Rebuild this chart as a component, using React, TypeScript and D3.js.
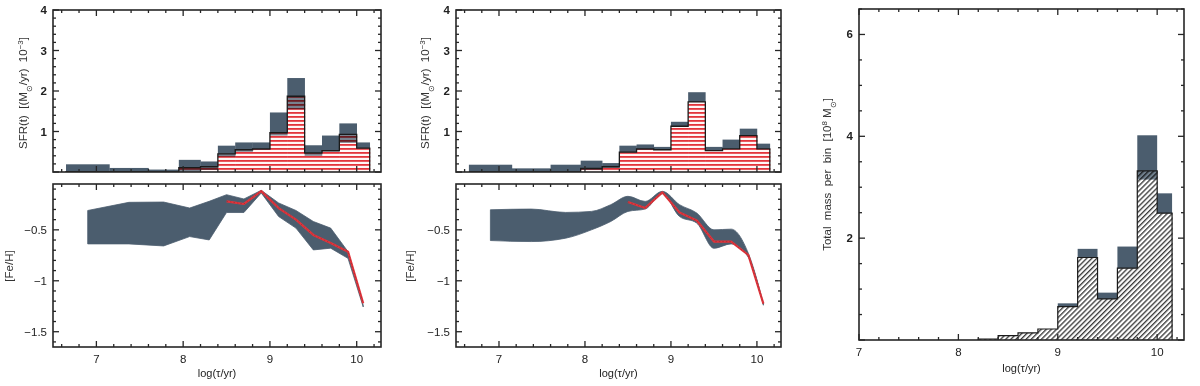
import React from "react";
import * as d3 from "d3";

// ---------- data ----------
const binEdges = [6.65, 7.15, 7.6, 7.95, 8.2, 8.4, 8.6, 8.8, 9.0, 9.2, 9.4, 9.6, 9.8, 10.0, 10.15];
const binCenters = [6.9, 7.375, 7.775, 8.075, 8.3, 8.5, 8.7, 8.9, 9.1, 9.3, 9.5, 9.7, 9.9, 10.075];

// left column SFR (10^-3 Msun/yr)
const sfrUpA = [0.19, 0.1, 0.06, 0.3, 0.26, 0.65, 0.73, 0.73, 1.47, 2.32, 0.66, 0.9, 1.2, 0.73];
const sfrBestA = [0.01, 0.01, 0.0, 0.11, 0.13, 0.45, 0.55, 0.57, 0.97, 1.87, 0.47, 0.53, 0.93, 0.59];
const sfrLowA = [0, 0, 0, 0, 0.05, 0.38, 0.5, 0.55, 0.9, 1.55, 0.4, 0.5, 0.72, 0.59];

// middle column SFR
const sfrUpB = [0.18, 0.09, 0.18, 0.28, 0.22, 0.65, 0.68, 0.62, 1.24, 1.97, 0.62, 0.8, 1.07, 0.7];
const sfrBestB = [0.0, 0.0, 0.0, 0.09, 0.13, 0.49, 0.57, 0.55, 1.13, 1.73, 0.53, 0.57, 0.9, 0.57];
const sfrLowB = [0, 0, 0, 0.05, 0.1, 0.49, 0.55, 0.55, 1.13, 1.73, 0.53, 0.57, 0.9, 0.57];

// left column [Fe/H]
const feUpA = [-0.31, -0.23, -0.227, -0.286, -0.22, -0.155, -0.197, -0.112, -0.236, -0.31, -0.418, -0.483, -0.714, -1.24];
const feLowA = [-0.638, -0.638, -0.658, -0.566, -0.599, -0.33, -0.33, -0.138, -0.369, -0.483, -0.697, -0.68, -0.78, -1.257];
const feBestA = [null, null, null, null, null, -0.22, -0.246, -0.12, -0.286, -0.4, -0.55, -0.63, -0.714, -1.22];

// middle column [Fe/H]
const feUpB = [-0.303, -0.296, -0.329, -0.319, -0.253, -0.171, -0.221, -0.122, -0.253, -0.335, -0.5, -0.493, -0.73, -1.224];
const feLowB = [-0.605, -0.615, -0.582, -0.5, -0.418, -0.319, -0.296, -0.145, -0.369, -0.434, -0.681, -0.638, -0.77, -1.24];
const feBestB = [null, null, null, null, null, -0.227, -0.286, -0.132, -0.329, -0.408, -0.615, -0.615, -0.747, -1.224];

// right: total mass per bin (10^8 Msun)
const massEdges = [8.2, 8.4, 8.6, 8.8, 9.0, 9.2, 9.4, 9.6, 9.8, 10.0, 10.15];
const massUp = [0.02, 0.085, 0.14, 0.216, 0.72, 1.79, 0.93, 1.835, 4.02, 2.88];
const massBest = [0.02, 0.085, 0.14, 0.216, 0.655, 1.62, 0.806, 1.41, 3.32, 2.49];
const massLow = [0.02, 0.085, 0.14, 0.216, 0.655, 1.62, 0.806, 1.41, 3.15, 2.49];

const xTickLabels = [7, 8, 9, 10];
const sfrTickLabels = [1, 2, 3, 4];
const feTickLabels = [-0.5, -1, -1.5];
const massTickLabels = [2, 4, 6];

// ---------- style ----------
const GRAY = "#4b5d6e";
const RED = "#e3343b";
const FONT = "'Liberation Sans', Arial, Helvetica, sans-serif";
const FRAME = "#262626";

type Box = { x0: number; x1: number; y0: number; y1: number };

function multiples(d0: number, d1: number, step: number) {
  const out: number[] = [];
  const a = Math.ceil(d0 / step - 1e-9);
  const b = Math.floor(d1 / step + 1e-9);
  for (let k = a; k <= b; k++) out.push(+(k * step).toFixed(6));
  return out;
}

function isMul(v: number, m: number) {
  const r = v / m;
  return Math.abs(r - Math.round(r)) < 1e-6;
}

function stepPath(
  xs: d3.ScaleLinear<number, number>,
  ys: d3.ScaleLinear<number, number>,
  edges: number[],
  vals: number[]
) {
  const pts: [number, number][] = [[xs(edges[0]), ys(0)]];
  vals.forEach((v, i) => {
    pts.push([xs(edges[i]), ys(v)]);
    pts.push([xs(edges[i + 1]), ys(v)]);
  });
  pts.push([xs(edges[edges.length - 1]), ys(0)]);
  return d3.line()(pts) || "";
}

function Frame(props: {
  box: Box;
  xs: d3.ScaleLinear<number, number>;
  ys: d3.ScaleLinear<number, number>;
  xMinor: number;
  xMajor: number;
  yMinor: number;
  yMajor: number;
  xLabels?: number[];
  yLabels: number[];
  yFmt: (v: number) => string;
  yBold?: boolean;
  labelY?: number;
}) {
  const { box, xs, ys, xMinor, xMajor, yMinor, yMajor, xLabels, yLabels, yFmt, yBold, labelY } = props;
  const [dx0, dx1] = xs.domain();
  const [dy0, dy1] = ys.domain();
  const xt = multiples(Math.min(dx0, dx1), Math.max(dx0, dx1), xMinor);
  const yt = multiples(Math.min(dy0, dy1), Math.max(dy0, dy1), yMinor);
  const els: React.ReactNode[] = [];
  xt.forEach((v, i) => {
    const L = isMul(v, xMajor) ? 6 : 3;
    const x = xs(v);
    els.push(<line key={"xb" + i} x1={x} x2={x} y1={box.y1} y2={box.y1 - L} stroke={FRAME} strokeWidth={1.3} />);
    els.push(<line key={"xt" + i} x1={x} x2={x} y1={box.y0} y2={box.y0 + L} stroke={FRAME} strokeWidth={1.3} />);
  });
  yt.forEach((v, i) => {
    const L = isMul(v, yMajor) ? 6 : 3;
    const y = ys(v);
    els.push(<line key={"yl" + i} x1={box.x0} x2={box.x0 + L} y1={y} y2={y} stroke={FRAME} strokeWidth={1.3} />);
    els.push(<line key={"yr" + i} x1={box.x1} x2={box.x1 - L} y1={y} y2={y} stroke={FRAME} strokeWidth={1.3} />);
  });
  return (
    <g>
      <rect x={box.x0} y={box.y0} width={box.x1 - box.x0} height={box.y1 - box.y0} fill="none" stroke={FRAME} strokeWidth={1.6} />
      {els}
      {yLabels.map((v) => (
        <text
          key={"yl" + v}
          x={box.x0 - 6}
          y={ys(v)}
          dy="0.35em"
          textAnchor="end"
          fontSize={11.5}
          fontWeight={yBold ? "bold" : "normal"}
          fontFamily={FONT}
          fill="#222"
        >
          {yFmt(v)}
        </text>
      ))}
      {xLabels &&
        xLabels.map((v) => (
          <text key={"xl" + v} x={xs(v)} y={labelY} dy="0.35em" textAnchor="middle" fontSize={11.5} fontFamily={FONT} fill="#222">
            {v}
          </text>
        ))}
    </g>
  );
}

function SfrPanel(props: { box: Box; up: number[]; best: number[]; low: number[]; clip: string }) {
  const { box, up, best, low, clip } = props;
  const xs = d3.scaleLinear().domain([6.5, 10.28]).range([box.x0, box.x1]);
  const ys = d3.scaleLinear().domain([0, 4]).range([box.y1, box.y0]);
  const bars = best.map((b, i) => ({ x0: binEdges[i], x1: binEdges[i + 1], b, u: up[i], l: low[i] }));
  return (
    <g>
      <clipPath id={clip}>
        <rect x={box.x0} y={box.y0} width={box.x1 - box.x0} height={box.y1 - box.y0} />
      </clipPath>
      <g clipPath={`url(#${clip})`}>
        {bars.map((d, i) => (
          <rect key={"h" + i} x={xs(d.x0)} y={ys(d.b)} width={xs(d.x1) - xs(d.x0) + 0.5} height={ys(0) - ys(d.b)} fill="url(#redStripes)" />
        ))}
        {bars.map((d, i) => (
          <rect key={"g" + i} x={xs(d.x0)} y={ys(d.u)} width={xs(d.x1) - xs(d.x0) + 0.3} height={Math.max(0, ys(d.b) - ys(d.u))} fill={GRAY} />
        ))}
        {bars.map((d, i) => (
          <rect
            key={"o" + i}
            x={xs(d.x0)}
            y={ys(d.b)}
            width={xs(d.x1) - xs(d.x0) + 0.3}
            height={Math.max(0, ys(d.l) - ys(d.b))}
            fill={GRAY}
            opacity={0.75}
            style={{ mixBlendMode: "multiply" }}
          />
        ))}
        <path d={stepPath(xs, ys, binEdges, best)} fill="none" stroke="#1a1a1a" strokeWidth={1.3} />
      </g>
      <Frame
        box={box}
        xs={xs}
        ys={ys}
        xMinor={0.2}
        xMajor={1}
        yMinor={0.2}
        yMajor={1}
        yLabels={sfrTickLabels}
        yFmt={(v) => String(v)}
        yBold
      />
    </g>
  );
}

function FePanel(props: { box: Box; up: number[]; low: number[]; best: (number | null)[]; smooth?: boolean }) {
  const { box, up, low, best, smooth } = props;
  const xs = d3.scaleLinear().domain([6.5, 10.28]).range([box.x0, box.x1]);
  const ys = d3.scaleLinear().domain([-1.65, -0.05]).range([box.y1, box.y0]);
  const pts = binCenters.map((c, i) => ({ c, u: up[i], l: low[i], b: best[i] }));
  const area = d3
    .area<{ c: number; u: number; l: number }>()
    .x((d) => xs(d.c))
    .y0((d) => ys(d.l))
    .y1((d) => ys(d.u))
    .curve(smooth ? d3.curveMonotoneX : d3.curveLinear);
  const line = d3
    .line<{ c: number; b: number | null }>()
    .defined((d) => d.b !== null)
    .x((d) => xs(d.c))
    .y((d) => ys(d.b as number));
  return (
    <g>
      <path d={area(pts) || ""} fill={GRAY} stroke={GRAY} strokeWidth={0.8} />
      <path d={line(pts) || ""} fill="none" stroke={RED} strokeWidth={2.2} strokeLinejoin="round" />
      <path d={line(pts) || ""} fill="none" stroke="#6b2a30" strokeWidth={0.6} strokeDasharray="1.5 2" opacity={0.7} />
      <Frame
        box={box}
        xs={xs}
        ys={ys}
        xMinor={0.2}
        xMajor={1}
        yMinor={0.1}
        yMajor={0.5}
        xLabels={xTickLabels}
        yLabels={feTickLabels}
        yFmt={(v) => String(v).replace("-", "\u2212")}
        labelY={box.y1 + 12}
      />
      <text x={(box.x0 + box.x1) / 2} y={box.y1 + 26} dy="0.35em" textAnchor="middle" fontSize={11} fontFamily={FONT} fill="#222">
        log(τ/yr)
      </text>
    </g>
  );
}

function SfrLabel({ x, y }: { x: number; y: number }) {
  return (
    <text transform={`translate(${x},${y}) rotate(-90)`} textAnchor="middle" fontSize={11.5} fontFamily={FONT} fill="#333" style={{ whiteSpace: "pre" }}>
      {"SFR(t)  [(M"}
      <tspan fontSize={8} baselineShift="sub">
        ⊙
      </tspan>
      {"/yr)  10"}
      <tspan fontSize={8} baselineShift="super">
        −3
      </tspan>
      {"]"}
    </text>
  );
}

function FeLabel({ x, y }: { x: number; y: number }) {
  return (
    <text transform={`translate(${x},${y}) rotate(-90)`} textAnchor="middle" fontSize={11.5} fontFamily={FONT} fill="#333">
      [Fe/H]
    </text>
  );
}

function MassPanel({ box }: { box: Box }) {
  const xs = d3.scaleLinear().domain([7, 10.27]).range([box.x0, box.x1]);
  const ys = d3.scaleLinear().domain([0, 6.5]).range([box.y1, box.y0]);
  const bars = massBest.map((b, i) => ({ x0: massEdges[i], x1: massEdges[i + 1], b, u: massUp[i], l: massLow[i] }));
  return (
    <g>
      {bars.map((d, i) => (
        <rect key={"h" + i} x={xs(d.x0)} y={ys(d.b)} width={xs(d.x1) - xs(d.x0) + 0.5} height={ys(0) - ys(d.b)} fill="url(#diagHatch)" />
      ))}
      {bars.map((d, i) => (
        <rect key={"g" + i} x={xs(d.x0)} y={ys(d.u)} width={xs(d.x1) - xs(d.x0)} height={Math.max(0, ys(d.b) - ys(d.u))} fill={GRAY} />
      ))}
      {bars.map((d, i) => (
        <rect
          key={"o" + i}
          x={xs(d.x0)}
          y={ys(d.b)}
          width={xs(d.x1) - xs(d.x0)}
          height={Math.max(0, ys(d.l) - ys(d.b))}
          fill={GRAY}
          opacity={0.8}
          style={{ mixBlendMode: "multiply" }}
        />
      ))}
      <path d={stepPath(xs, ys, massEdges, massBest)} fill="none" stroke="#1a1a1a" strokeWidth={1.2} />
      <Frame
        box={box}
        xs={xs}
        ys={ys}
        xMinor={0.2}
        xMajor={1}
        yMinor={0.5}
        yMajor={2}
        xLabels={xTickLabels}
        yLabels={massTickLabels}
        yFmt={(v) => String(v)}
        yBold
        labelY={box.y1 + 12}
      />
      <text x={(box.x0 + box.x1) / 2} y={box.y1 + 28} dy="0.35em" textAnchor="middle" fontSize={11} fontFamily={FONT} fill="#222">
        log(τ/yr)
      </text>
      <text
        transform={`translate(${box.x0 - 28},${(box.y0 + box.y1) / 2}) rotate(-90)`}
        textAnchor="middle"
        fontSize={11.5}
        fontFamily={FONT}
        fill="#333"
        style={{ whiteSpace: "pre" }}
      >
        {"Total  mass  per  bin  [10"}
        <tspan fontSize={8} baselineShift="super">
          8
        </tspan>
        {" M"}
        <tspan fontSize={8} baselineShift="sub">
          ⊙
        </tspan>
        {"]"}
      </text>
    </g>
  );
}

export default function App() {
  const topA: Box = { x0: 53, x1: 381, y0: 10, y1: 172 };
  const botA: Box = { x0: 53, x1: 381, y0: 184, y1: 347 };
  const topB: Box = { x0: 456, x1: 781, y0: 10, y1: 172 };
  const botB: Box = { x0: 456, x1: 781, y0: 184, y1: 347 };
  const right: Box = { x0: 859, x1: 1184, y0: 9, y1: 340 };
  return (
    <svg width={1200} height={386} style={{ position: "absolute", left: 0, top: 0, background: "#fff" }}>
      <defs>
        <pattern id="redStripes" patternUnits="userSpaceOnUse" width={8} height={4}>
          <rect width={8} height={4} fill="#fff6f6" />
          <rect y={0} width={8} height={1.8} fill={RED} />
        </pattern>
        <pattern id="diagHatch" patternUnits="userSpaceOnUse" width={3.6} height={3.6} patternTransform="rotate(45)">
          <rect width={3.6} height={3.6} fill="#fff" />
          <line x1={0.7} y1={0} x2={0.7} y2={3.6} stroke="#222" strokeWidth={1.2} />
        </pattern>
      </defs>
      <rect width={1200} height={386} fill="#fff" />
      <SfrPanel box={topA} up={sfrUpA} best={sfrBestA} low={sfrLowA} clip="clipA" />
      <FePanel box={botA} up={feUpA} low={feLowA} best={feBestA} />
      <SfrLabel x={27} y={93} />
      <FeLabel x={13} y={266} />
      <SfrPanel box={topB} up={sfrUpB} best={sfrBestB} low={sfrLowB} clip="clipB" />
      <FePanel box={botB} up={feUpB} low={feLowB} best={feBestB} smooth />
      <SfrLabel x={429} y={93} />
      <FeLabel x={414} y={266} />
      <MassPanel box={right} />
    </svg>
  );
}
